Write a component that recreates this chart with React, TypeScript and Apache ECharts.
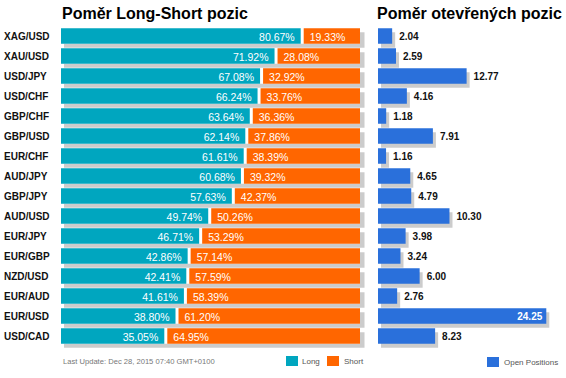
import React, { useEffect, useRef } from "react";
import * as echarts from "echarts";

const pairs = ["XAG/USD", "XAU/USD", "USD/JPY", "USD/CHF", "GBP/CHF", "GBP/USD", "EUR/CHF", "AUD/JPY", "GBP/JPY", "AUD/USD", "EUR/JPY", "EUR/GBP", "NZD/USD", "EUR/AUD", "EUR/USD", "USD/CAD"];
const longPct = [80.67, 71.92, 67.08, 66.24, 63.64, 62.14, 61.61, 60.68, 57.63, 49.74, 46.71, 42.86, 42.41, 41.61, 38.8, 35.05];
const shortPct = [19.33, 28.08, 32.92, 33.76, 36.36, 37.86, 38.39, 39.32, 42.37, 50.26, 53.29, 57.14, 57.59, 58.39, 61.2, 64.95];
const openPos = [2.04, 2.59, 12.77, 4.16, 1.18, 7.91, 1.16, 4.65, 4.79, 10.3, 3.98, 3.24, 6.0, 2.76, 24.25, 8.23];

const TEAL = "#00A6BF";
const ORANGE = "#FF6600";
const BLUE = "#2A70DB";
const SHADOW = "#CCCCCC";
const FONT = "'Liberation Sans', Arial, sans-serif";
const BAR_H = 15.5;

export default function App() {
  const ref = useRef<HTMLDivElement>(null);
  useEffect(() => {
    if (!ref.current) return;
    const chart = echarts.init(ref.current, null, { renderer: "svg" });
    const maxOpen = Math.max(...openPos);

    const renderLS = (params: any, api: any) => {
      const idx = api.value(0);
      const L = api.value(1);
      const S = api.value(2);
      const p0 = api.coord([0, idx]);
      const p1 = api.coord([L, idx]);
      const p2 = api.coord([L + S, idx]);
      const top = p0[1] - BAR_H / 2;
      const gap = 1.5;
      return {
        type: "group",
        children: [
          { type: "rect", shape: { x: p0[0] + 3, y: top + 4, width: p2[0] - p0[0] + 1.5, height: BAR_H }, style: { fill: SHADOW } },
          { type: "rect", shape: { x: p0[0], y: top, width: p2[0] - p0[0], height: BAR_H }, style: { fill: "#ffffff" } },
          { type: "rect", shape: { x: p0[0], y: top, width: p1[0] - p0[0] - gap, height: BAR_H }, style: { fill: TEAL } },
          { type: "rect", shape: { x: p1[0] + gap, y: top, width: p2[0] - p1[0] - gap, height: BAR_H }, style: { fill: ORANGE } },
          {
            type: "text",
            style: {
              x: p1[0] - gap - 6, y: p0[1] + 0.5, text: L.toFixed(2) + "%", fill: "#fff",
              font: "10.5px " + FONT, align: "right", verticalAlign: "middle",
            },
          },
          {
            type: "text",
            style: {
              x: p1[0] + gap + 6, y: p0[1] + 0.5, text: S.toFixed(2) + "%", fill: "#fff",
              font: "10.5px " + FONT, align: "left", verticalAlign: "middle",
            },
          },
        ],
      };
    };

    const renderOP = (params: any, api: any) => {
      const idx = api.value(0);
      const v = api.value(1);
      const p0 = api.coord([0, idx]);
      const p1 = api.coord([v, idx]);
      const top = p0[1] - BAR_H / 2;
      const inside = v === maxOpen;
      return {
        type: "group",
        children: [
          { type: "rect", shape: { x: p0[0] + 3, y: top + 4, width: p1[0] - p0[0], height: BAR_H }, style: { fill: SHADOW } },
          { type: "rect", shape: { x: p0[0], y: top, width: p1[0] - p0[0], height: BAR_H }, style: { fill: BLUE } },
          {
            type: "text",
            style: {
              x: inside ? p1[0] - 4 : p1[0] + 7, y: p0[1] + 0.5, text: v.toFixed(2),
              fill: inside ? "#fff" : "#111",
              font: "bold 10px " + FONT, align: inside ? "right" : "left", verticalAlign: "middle",
            },
          },
        ],
      };
    };

    chart.setOption({
      animation: false,
      textStyle: { fontFamily: FONT },
      grid: [
        { left: 61, top: 26, width: 299, height: 320 },
        { left: 378, top: 26, width: 173.5, height: 320 },
      ],
      xAxis: [
        { type: "value", gridIndex: 0, min: 0, max: 100, show: false },
        { type: "value", gridIndex: 1, min: 0, max: 25, show: false },
      ],
      yAxis: [
        {
          type: "category", gridIndex: 0, data: pairs, inverse: true,
          axisLine: { show: false }, axisTick: { show: false }, splitLine: { show: false },
          axisLabel: { align: "left", margin: 57, fontWeight: "bold", fontSize: 10, color: "#111", fontFamily: FONT },
        },
        {
          type: "category", gridIndex: 1, data: pairs, inverse: true, show: false,
        },
      ],
      series: [
        {
          type: "custom", name: "Long/Short", xAxisIndex: 0, yAxisIndex: 0,
          renderItem: renderLS,
          encode: { x: [1, 2], y: 0 },
          data: pairs.map((p, i) => [i, longPct[i], shortPct[i]]),
        },
        {
          type: "custom", name: "Open Positions", xAxisIndex: 1, yAxisIndex: 1,
          renderItem: renderOP,
          encode: { x: 1, y: 0 },
          data: pairs.map((p, i) => [i, openPos[i]]),
        },
      ],
      graphic: [
        { type: "text", left: 62, top: 5, style: { text: "Poměr Long-Short pozic", font: "bold 16px " + FONT, fill: "#000" } },
        { type: "text", left: 377, top: 5, style: { text: "Poměr otevřených pozic", font: "bold 16px " + FONT, fill: "#000" } },
        { type: "text", left: 63, top: 357, style: { text: "Last Update: Dec 28, 2015 07:40 GMT+0100", font: "7.6px " + FONT, fill: "#777" } },
        { type: "rect", left: 286, top: 356, shape: { width: 12, height: 10 }, style: { fill: TEAL } },
        { type: "text", left: 302, top: 357, style: { text: "Long", font: "8px " + FONT, fill: "#555" } },
        { type: "rect", left: 327, top: 356, shape: { width: 12, height: 10 }, style: { fill: ORANGE } },
        { type: "text", left: 344, top: 357, style: { text: "Short", font: "8px " + FONT, fill: "#555" } },
        { type: "rect", left: 487, top: 357, shape: { width: 12, height: 10 }, style: { fill: BLUE } },
        { type: "text", left: 504, top: 358, style: { text: "Open Positions", font: "8px " + FONT, fill: "#555" } },
      ],
    });
    return () => chart.dispose();
  }, []);
  return <div ref={ref} style={{ width: 566, height: 378, position: "absolute", left: 0, top: 0 }} />;
}
